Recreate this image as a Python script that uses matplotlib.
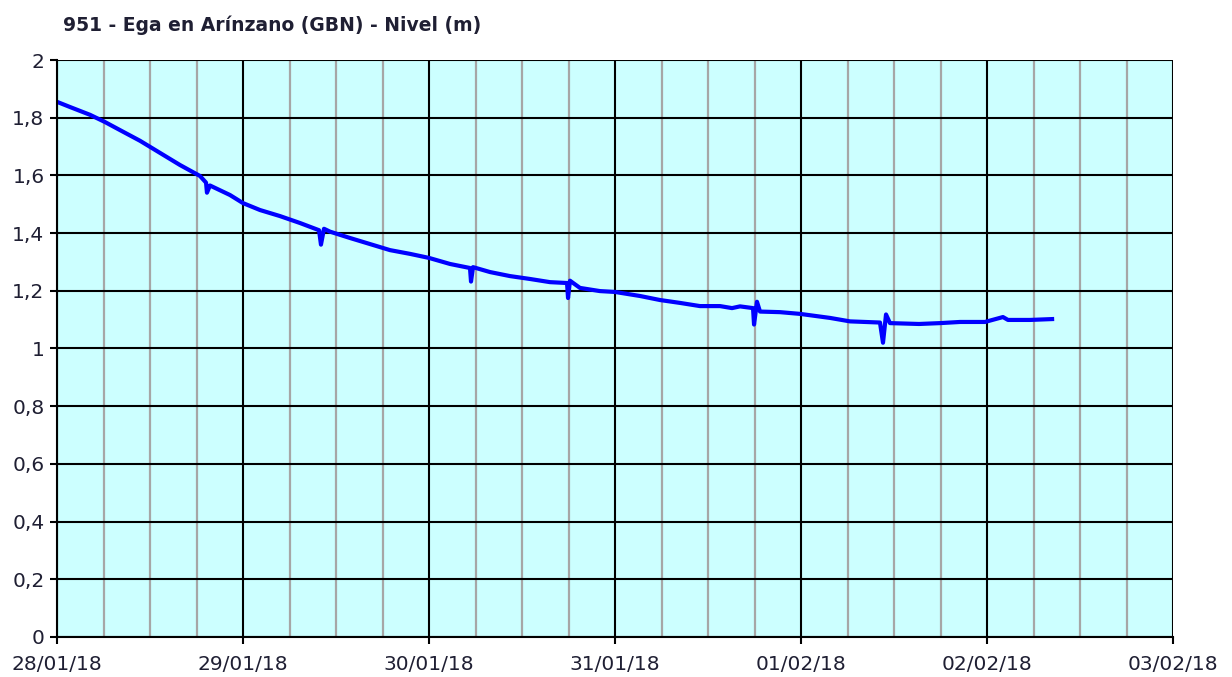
import numpy as np
import pandas as pd
import matplotlib
matplotlib.use("Agg")
import matplotlib.pyplot as plt
import matplotlib.dates as mdates
from matplotlib.ticker import FuncFormatter, MultipleLocator

# Horas desde 28/01/18 00:00 y nivel (m)
horas = [0.0, 1.68, 4.26, 6.19, 8.13, 10.71, 13.29, 15.87, 18.45, 19.23, 19.35, 19.74,
         22.32, 24.0, 26.19, 28.77, 31.35, 33.81, 34.06, 34.45, 35.23, 37.81, 40.39,
         42.97, 45.55, 48.0, 50.71, 53.29, 53.42, 53.68, 55.87, 58.45, 61.03, 63.61,
         65.81, 65.94, 66.19, 67.48, 70.06, 72.0, 75.23, 77.81, 80.39, 82.97, 85.55,
         87.1, 88.13, 89.81, 89.94, 90.32, 90.71, 93.29, 95.87, 99.74, 102.32, 106.19,
         106.58, 106.97, 107.48, 111.23, 113.94, 116.52, 119.74, 122.06, 122.71,
         125.55, 128.4]
nivel = [1.855, 1.837, 1.81, 1.785, 1.757, 1.72, 1.678, 1.636, 1.598, 1.575, 1.54, 1.565,
         1.532, 1.504, 1.48, 1.459, 1.435, 1.41, 1.36, 1.415, 1.405, 1.383, 1.362,
         1.341, 1.328, 1.314, 1.293, 1.279, 1.232, 1.282, 1.265, 1.251, 1.241, 1.23,
         1.227, 1.175, 1.235, 1.21, 1.199, 1.196, 1.182, 1.168, 1.158, 1.147, 1.147,
         1.14, 1.146, 1.14, 1.083, 1.162, 1.128, 1.126, 1.12, 1.106, 1.094, 1.09,
         1.02, 1.118, 1.088, 1.085, 1.088, 1.092, 1.092, 1.109, 1.099,
         1.099, 1.102]

inicio = pd.Timestamp("2018-01-28")
fin = pd.Timestamp("2018-02-03")
t = inicio + pd.to_timedelta(horas, unit="h")

plt.rcParams['font.family'] = ['DejaVu Sans']
texto = '#1f1f33'

fig = plt.figure(figsize=(12.32, 6.77), dpi=100)
ax = fig.add_axes([57 / 1232, 1 - 637 / 677, 1116 / 1232, 577 / 677])
ax.set_facecolor('#ccffff')

ax.plot(t, nivel, color='#0000ff', lw=3, zorder=3)

ax.set_xlim(inicio, fin)
ax.set_ylim(0, 2)
ax.xaxis.set_major_locator(mdates.DayLocator())
ax.xaxis.set_major_formatter(mdates.DateFormatter('%d/%m/%y'))
ax.xaxis.set_minor_locator(mdates.HourLocator(byhour=[6, 12, 18]))
ax.yaxis.set_major_locator(MultipleLocator(0.2))
ax.yaxis.set_major_formatter(FuncFormatter(lambda v, p: f'{v:.1f}'.replace('.', ',').replace(',0', '') if v != 0 else '0'))

ax.grid(which='minor', axis='x', color='#a6a6a6', lw=1.6)
ax.grid(which='major', color='black', lw=1.5)
ax.set_axisbelow(True)
ax.xaxis.set_zorder(0.5)
ax.yaxis.set_zorder(0.6)

ax.tick_params(which='major', direction='out', length=5, width=1.5, colors='black',
               labelcolor=texto, labelsize=14.5)
ax.tick_params(which='minor', length=0)
ax.tick_params(axis='x', pad=8)
ax.tick_params(axis='y', pad=4)
for s in ['top', 'right']:
    ax.spines[s].set_visible(False)
for s in ['left', 'bottom']:
    ax.spines[s].set_linewidth(1.5)
    ax.spines[s].set_zorder(4)

fig.text(63 / 1232, 1 - 25 / 677, '951 - Ega en Arínzano (GBN) - Nivel (m)',
         fontsize=13.5, fontweight='bold', color=texto, va='center', ha='left')

fig.savefig('out.png', dpi=100, facecolor='white')
